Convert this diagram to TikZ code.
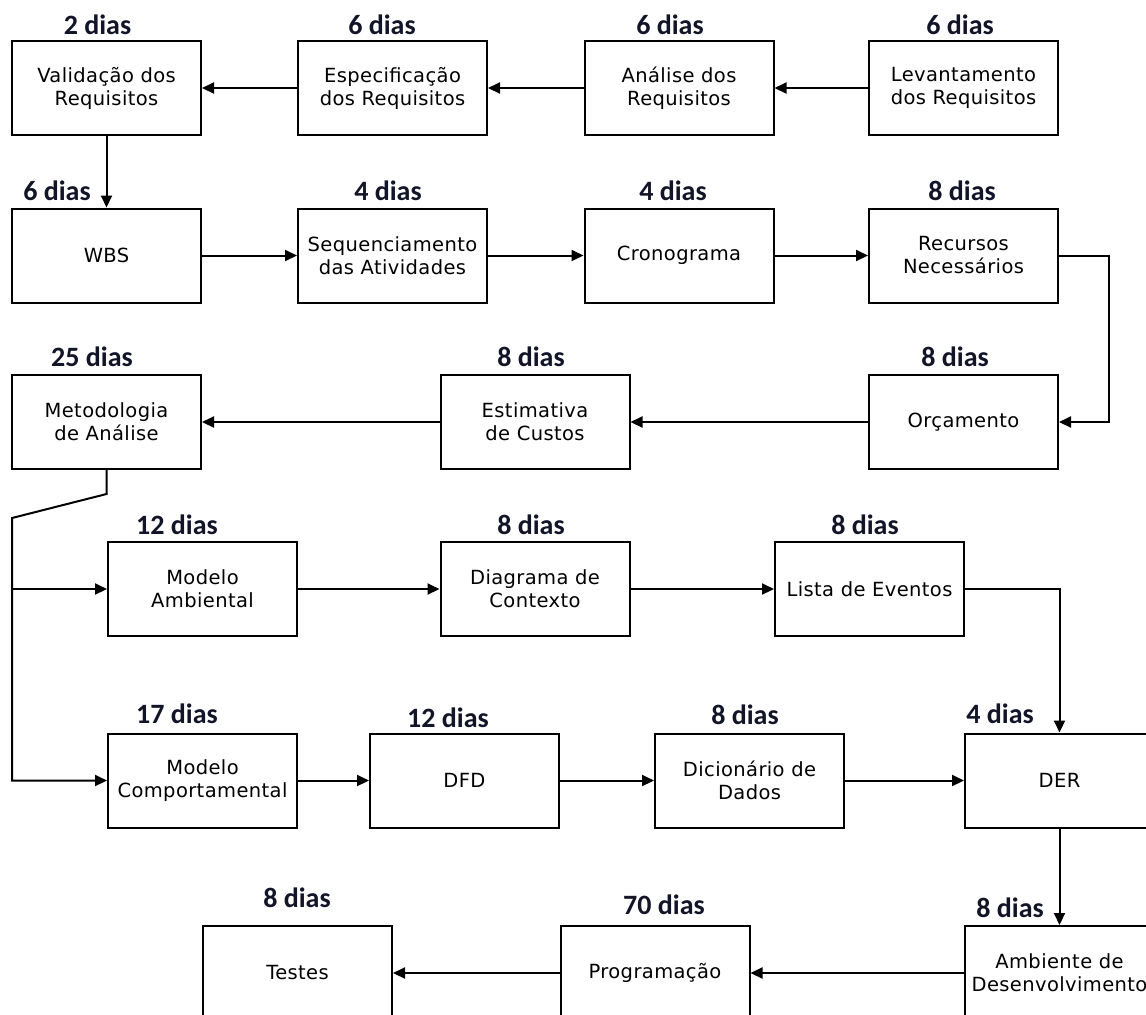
\documentclass[tikz,border=0pt]{standalone}
\usepackage{fontspec}
\usetikzlibrary{arrows.meta}
\newfontfamily\boxfont{DejaVu Sans}[LetterSpace=2]
\newfontfamily\diasfont{Carlito}
\definecolor{diascor}{RGB}{18,20,40}
\tikzset{
  etapa/.style={draw, line width=1pt, minimum width=94.5pt, minimum height=47pt, inner sep=1pt, align=center, font=\boxfont\fontsize{9.75pt}{11.5pt}\selectfont},
  dias/.style={anchor=base, text=diascor, inner sep=0pt, font=\diasfont\bfseries\fontsize{14pt}{16pt}\selectfont},
  seta/.style={line width=1pt, -{Triangle[length=6pt,width=5.5pt]}}
}
\begin{document}
\begin{tikzpicture}[x=0.5pt,y=-0.5pt]
    \useasboundingbox (0,0) rectangle (1146,1014);
    \clip (0,0) rectangle (1146,1014);
    \fill[white] (0,0) rectangle (1146,1014);

    \node[etapa] (valid) at (106.5,88) {Validação dos\\Requisitos};
    \node[etapa] (espec) at (392.5,88) {Especificação\\dos Requisitos};
    \node[etapa] (anal) at (679,88) {Análise dos\\Requisitos};
    \node[etapa] (levant) at (963.5,88) {Levantamento\\dos Requisitos};

    \node[etapa] (wbs) at (106.5,255.5) {WBS};
    \node[etapa] (seq) at (392.5,255.5) {Sequenciamento\\das Atividades};
    \node[etapa] (crono) at (679,255.5) {Cronograma};
    \node[etapa] (rec) at (963.5,255.5) {Recursos\\Necessários};

    \node[etapa] (metod) at (106.5,422) {Metodologia\\de Análise};
    \node[etapa] (estim) at (535,422) {Estimativa\\de Custos};
    \node[etapa] (orc) at (963.5,422) {Orçamento};

    \node[etapa] (mamb) at (202.5,589) {Modelo\\Ambiental};
    \node[etapa] (diag) at (535,589) {Diagrama de\\Contexto};
    \node[etapa] (lista) at (869.5,589) {Lista de Eventos};

    \node[etapa] (mcomp) at (202.5,780.5) {Modelo\\Comportamental};
    \node[etapa] (dfd) at (464.5,780.5) {DFD};
    \node[etapa] (dic) at (749.5,780.5) {Dicionário de\\Dados};
    \node[etapa] (der) at (1059.5,780.5) {DER};

    \node[etapa] (testes) at (297.5,973) {Testes};
    \node[etapa] (prog) at (655,973) {Programação};
    \node[etapa] (ambdes) at (1059.5,973) {Ambiente de\\Desenvolvimento};

    \node[dias] (d1) at (97.5,34) {2 dias};
    \node[dias] (d2) at (382,34) {6 dias};
    \node[dias] (d3) at (670,34) {6 dias};
    \node[dias] (d4) at (960,34) {6 dias};
    \node[dias] (d5) at (57,200) {6 dias};
    \node[dias] (d6) at (388,200) {4 dias};
    \node[dias] (d7) at (673,200) {4 dias};
    \node[dias] (d8) at (962,200) {8 dias};
    \node[dias] (d9) at (92,366) {25 dias};
    \node[dias] (d10) at (531,366) {8 dias};
    \node[dias] (d11) at (955,366) {8 dias};
    \node[dias] (d12) at (177,534) {12 dias};
    \node[dias] (d13) at (531,534) {8 dias};
    \node[dias] (d14) at (865,534) {8 dias};
    \node[dias] (d15) at (177,723) {17 dias};
    \node[dias] (d16) at (448,727) {12 dias};
    \node[dias] (d17) at (745,724) {8 dias};
    \node[dias] (d18) at (1000,723) {4 dias};
    \node[dias] (d19) at (297,907) {8 dias};
    \node[dias] (d20) at (664,914) {70 dias};
    \node[dias] (d21) at (1010,917) {8 dias};

    \coordinate (dobra1) at (106.5,494);
    \coordinate (dobra2) at (12,518);
    \coordinate (ramo) at (12,589);

    \draw[seta] (levant) -- (anal);
    \draw[seta] (anal) -- (espec);
    \draw[seta] (espec) -- (valid);
    \draw[seta] (valid) -- (wbs);
    \draw[seta] (wbs) -- (seq);
    \draw[seta] (seq) -- (crono);
    \draw[seta] (crono) -- (rec);
    \draw[seta] (rec.east) -- ++(50,0) |- (orc.east);
    \draw[seta] (orc) -- (estim);
    \draw[seta] (estim) -- (metod);
    \draw[seta] (metod.south) -- (dobra1) -- (dobra2) |- (mcomp.west);
    \draw[seta] (ramo) -- (mamb.west);
    \draw[seta] (mamb) -- (diag);
    \draw[seta] (diag) -- (lista);
    \draw[seta] (lista.east) -| (der.north);
    \draw[seta] (mcomp) -- (dfd);
    \draw[seta] (dfd) -- (dic);
    \draw[seta] (dic) -- (der);
    \draw[seta] (der) -- (ambdes);
    \draw[seta] (ambdes) -- (prog);
    \draw[seta] (prog) -- (testes);
\end{tikzpicture}
\end{document}
